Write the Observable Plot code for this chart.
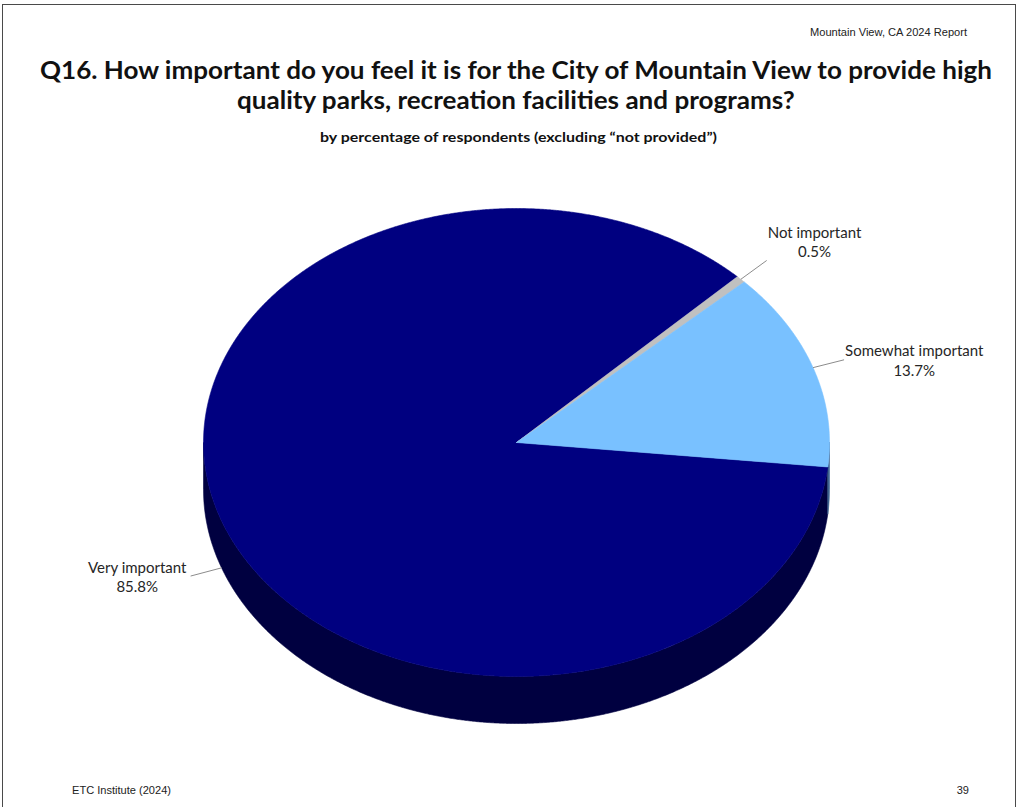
<!DOCTYPE html>
<html><head><meta charset="utf-8">
<script src="https://cdn.jsdelivr.net/npm/d3@7"></script>
<script src="https://cdn.jsdelivr.net/npm/@observablehq/plot@0.6"></script>
<style>
html,body{margin:0;padding:0;background:#fff;}
#page{position:relative;width:1020px;height:807px;overflow:hidden;background:#fff;}
#frame{position:absolute;left:2px;top:4px;width:1014px;height:900px;border:1px solid #4a4a4a;box-sizing:border-box;}
.txt{position:absolute;white-space:nowrap;line-height:1;}
#chart{position:absolute;left:0;top:160px;}
</style></head>
<body><div id="page"><div id="frame"></div><div id="chart"></div></div>
<script>
// ---------- data ----------
const categories = ["Very important", "Not important", "Somewhat important"];
const values = [85.8, 0.5, 13.7];
const valueLabels = ["85.8%", "0.5%", "13.7%"];
const topColors = ["#000080", "#C0C0C0", "#79C1FF"];
const sideColors = ["#000040", "#7A7A7A", "#3D6391"];

const headerText = "Mountain View, CA 2024 Report";
const titleLines = ["Q16. How important do you feel it is for the City of Mountain View to provide high",
                    "quality parks, recreation facilities and programs?"];
const subtitleText = "by percentage of respondents (excluding \u201cnot provided\u201d)";
const footerLeft = "ETC Institute (2024)";
const footerRight = "39";

// ---------- text placement helper ----------
const page = document.getElementById("page");
function place(text, o) {
  const el = document.createElement("div");
  el.className = "txt";
  el.style.font = `${o.weight || 400} ${o.size}px ${o.font}`;
  el.style.color = o.color || "#111";
  el.appendChild(document.createTextNode(text));
  const mk = document.createElement("i");
  mk.style.cssText = "display:inline-block;width:0;height:0;vertical-align:baseline";
  el.appendChild(mk);
  el.style.left = "0px"; el.style.top = "0px";
  page.appendChild(el);
  const pr = page.getBoundingClientRect();
  const w = el.getBoundingClientRect().width;
  const b = mk.getBoundingClientRect().top - pr.top;
  const sx = o.scale ? o.scale : (o.width ? o.width / w : 1);
  el.style.transformOrigin = "0 0";
  el.style.transform = `scaleX(${sx})`;
  const W = w * sx;
  const left = o.anchor === "middle" ? o.x - W / 2 : o.anchor === "end" ? o.x - W : o.x;
  el.style.left = left + "px";
  el.style.top = (o.baseline - b) + "px";
  return sx;
}
const CAL = "Lato, 'Open Sans', sans-serif";
const ARIAL = "'Liberation Sans', Arial, sans-serif";
place(headerText, {font: ARIAL, size: 11, anchor: "end", x: 967, baseline: 36, width: 157, color: "#222"});
const ts = place(titleLines[0], {font: CAL, size: 24, weight: 700, anchor: "middle", x: 516, baseline: 79, width: 952, color: "#111"});
place(titleLines[1], {font: CAL, size: 24, weight: 700, anchor: "middle", x: 516, baseline: 109, scale: ts, color: "#111"});
place(subtitleText, {font: CAL, size: 13, weight: 700, anchor: "middle", x: 518, baseline: 142, width: 397, color: "#111"});
place(footerLeft, {font: ARIAL, size: 10.5, anchor: "start", x: 72, baseline: 794, width: 99, color: "#222"});
place(footerRight, {font: ARIAL, size: 11, anchor: "end", x: 969, baseline: 794, color: "#222"});

// ---------- pie geometry ----------
const TOP = 160, W = 1020, H = 610;
const CX = 516, CY = 442, RX = 313, RY = 234, DEPTH = 47;
const START = 6 * Math.PI / 180;
const D = DEPTH / RY;           // depth in y units
const STEP = Math.PI / 720;

const pie = d3.pie().sort(null).startAngle(START).endAngle(START + 2 * Math.PI)(values);

function arcPts(a, b, dy) {
  const pts = [];
  const n = Math.max(2, Math.ceil((b - a) / STEP));
  for (let k = 0; k <= n; k++) {
    const t = a + (b - a) * k / n;
    pts.push([Math.cos(t), Math.sin(t) + dy]);
  }
  return pts;
}

const topRows = [], sideRows = [];
pie.forEach((p, i) => {
  const a = p.startAngle, b = p.endAngle;
  const poly = [[0, 0], ...arcPts(a, b, 0), [0, 0]];
  poly.forEach(([x, y]) => topRows.push({id: categories[i], x, y, fill: topColors[i]}));
  [[0, Math.PI], [2 * Math.PI, 3 * Math.PI]].forEach(([lo, hi], j) => {
    const s = Math.max(a, lo), e = Math.min(b, hi);
    if (e > s) {
      const pts = [...arcPts(s, e, 0), ...arcPts(s, e, D).reverse()];
      pts.push(pts[0]);
      pts.forEach(([x, y]) => sideRows.push({id: categories[i] + j, x, y, fill: sideColors[i]}));
    }
  });
});

// ---------- labels & leaders ----------
const ctx = document.createElement("canvas").getContext("2d");
ctx.font = "15px Lato";
const LEAD = 32;
const linkRows = [], textRows = [];
pie.forEach((p, i) => {
  const m = (p.startAngle + p.endAngle) / 2;
  const c = Math.cos(m), s = Math.sin(m);
  const ax = CX + RX * c, ay = CY + RY * s + (s > 0 ? DEPTH : 0);
  let dx = RX * c, dy = RY * s;
  const n = Math.hypot(dx, dy); dx /= n; dy /= n;
  const ex = ax + LEAD * dx, ey = ay + LEAD * dy;
  const w = Math.max(ctx.measureText(categories[i]).width, ctx.measureText(valueLabels[i]).width);
  const bx = dx >= 0 ? ex + 1 + w / 2 : ex - 4 - w / 2;
  const by = dy < -0.5 ? ey - 19 : ey;
  const ux = px => (px - CX) / RX, uy = py => (py - CY) / RY;
  linkRows.push({x1: ux(ax), y1: uy(ay), x2: ux(ex), y2: uy(ey)});
  textRows.push({x: ux(bx), y: uy(by), text: categories[i] + "\n" + valueLabels[i]});
});

const chart = Plot.plot({
  width: W, height: H, margin: 0,
  x: {domain: [-1, 1], range: [CX - RX, CX + RX], axis: null},
  y: {domain: [-1, 1], range: [CY - TOP - RY, CY - TOP + RY], axis: null},
  color: {type: "identity"},
  style: {background: "transparent", overflow: "visible"},
  marks: [
    Plot.line(sideRows, {x: "x", y: "y", z: "id", fill: "fill", stroke: "fill", strokeWidth: 0.6, curve: "linear"}),
    Plot.line(topRows, {x: "x", y: "y", z: "id", fill: "fill", stroke: "fill", strokeWidth: 0.6, curve: "linear"}),
    Plot.link(linkRows, {x1: "x1", y1: "y1", x2: "x2", y2: "y2", stroke: "#8c8c8c", strokeWidth: 1}),
    Plot.text(textRows, {x: "x", y: "y", text: "text", fontSize: 15, fontFamily: "Lato, 'Open Sans', sans-serif",
                         lineHeight: 1.3, textAnchor: "middle", fill: "#262626"})
  ]
});
document.getElementById("chart").appendChild(chart);
</script>
</body></html>
